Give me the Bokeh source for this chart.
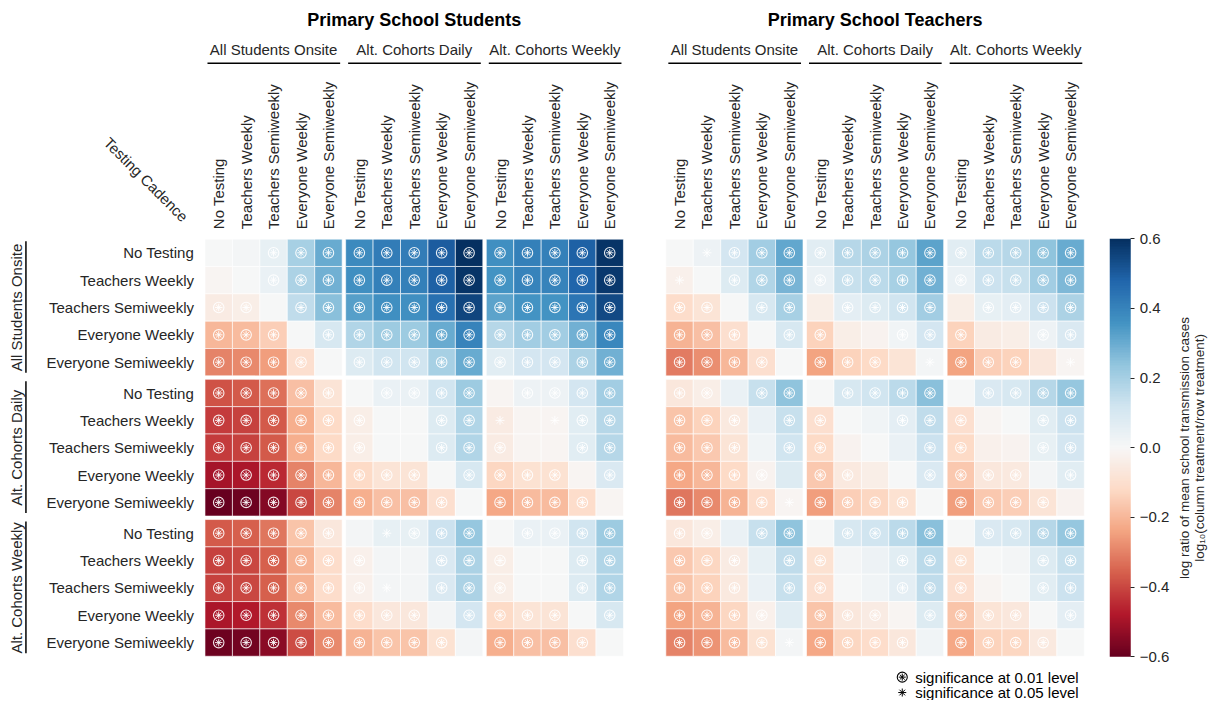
import math
import numpy as np
from bokeh.plotting import figure
from bokeh.models import (Range1d, ColumnDataSource, LinearColorMapper, ColorBar,
                          FixedTicker, CustomJSTickFormatter)
from bokeh.transform import transform
from bokeh.core.properties import value
from bokeh.embed import file_html
from bokeh.resources import INLINE

# ---------------- data ----------------
panels = ["Primary School Students", "Primary School Teachers"]
groups = ["All Students Onsite", "Alt. Cohorts Daily", "Alt. Cohorts Weekly"]
cadences = ["No Testing", "Teachers Weekly", "Teachers Semiweekly",
            "Everyone Weekly", "Everyone Semiweekly"]

# log10(column treatment / row treatment); rows/cols ordered group x cadence
students_ratio = [
    [0.00, 0.01, 0.05, 0.20, 0.30, 0.38, 0.42, 0.42, 0.50, 0.60, 0.37, 0.41, 0.41, 0.49, 0.59],
    [-0.01, 0.00, 0.04, 0.19, 0.29, 0.37, 0.41, 0.41, 0.49, 0.59, 0.36, 0.40, 0.40, 0.48, 0.58],
    [-0.05, -0.04, 0.00, 0.15, 0.25, 0.33, 0.37, 0.37, 0.45, 0.55, 0.32, 0.36, 0.36, 0.44, 0.54],
    [-0.20, -0.19, -0.15, 0.00, 0.10, 0.18, 0.22, 0.22, 0.30, 0.40, 0.17, 0.21, 0.21, 0.29, 0.39],
    [-0.30, -0.29, -0.25, -0.10, 0.00, 0.08, 0.12, 0.12, 0.20, 0.30, 0.07, 0.11, 0.11, 0.19, 0.29],
    [-0.38, -0.37, -0.33, -0.18, -0.08, 0.00, 0.04, 0.04, 0.12, 0.22, -0.01, 0.03, 0.03, 0.11, 0.21],
    [-0.42, -0.41, -0.37, -0.22, -0.12, -0.04, 0.00, 0.00, 0.08, 0.18, -0.05, -0.01, -0.01, 0.07, 0.17],
    [-0.42, -0.41, -0.37, -0.22, -0.12, -0.04, 0.00, 0.00, 0.08, 0.18, -0.05, -0.01, -0.01, 0.07, 0.17],
    [-0.50, -0.49, -0.45, -0.30, -0.20, -0.12, -0.08, -0.08, 0.00, 0.10, -0.13, -0.09, -0.09, -0.01, 0.09],
    [-0.60, -0.59, -0.55, -0.40, -0.30, -0.22, -0.18, -0.18, -0.10, 0.00, -0.23, -0.19, -0.19, -0.11, -0.01],
    [-0.37, -0.36, -0.32, -0.17, -0.07, 0.01, 0.05, 0.05, 0.13, 0.23, 0.00, 0.04, 0.04, 0.12, 0.22],
    [-0.41, -0.40, -0.36, -0.21, -0.11, -0.03, 0.01, 0.01, 0.09, 0.19, -0.04, 0.00, 0.00, 0.08, 0.18],
    [-0.41, -0.40, -0.36, -0.21, -0.11, -0.03, 0.01, 0.01, 0.09, 0.19, -0.04, 0.00, 0.00, 0.08, 0.18],
    [-0.49, -0.48, -0.44, -0.29, -0.19, -0.11, -0.07, -0.07, 0.01, 0.11, -0.12, -0.08, -0.08, 0.00, 0.10],
    [-0.59, -0.58, -0.54, -0.39, -0.29, -0.21, -0.17, -0.17, -0.09, 0.01, -0.22, -0.18, -0.18, -0.10, 0.00],
]
teachers_ratio = [
    [0.00, 0.03, 0.11, 0.21, 0.31, 0.07, 0.17, 0.19, 0.23, 0.32, 0.07, 0.16, 0.17, 0.24, 0.30],
    [-0.03, 0.00, 0.08, 0.18, 0.28, 0.04, 0.14, 0.16, 0.20, 0.29, 0.04, 0.13, 0.14, 0.21, 0.27],
    [-0.11, -0.08, 0.00, 0.10, 0.20, -0.04, 0.06, 0.08, 0.12, 0.21, -0.04, 0.05, 0.06, 0.13, 0.19],
    [-0.21, -0.18, -0.10, 0.00, 0.10, -0.14, -0.04, -0.02, 0.02, 0.11, -0.14, -0.05, -0.04, 0.03, 0.09],
    [-0.31, -0.28, -0.20, -0.10, 0.00, -0.24, -0.14, -0.12, -0.08, 0.01, -0.24, -0.15, -0.14, -0.07, -0.01],
    [-0.07, -0.04, 0.04, 0.14, 0.24, 0.00, 0.10, 0.12, 0.16, 0.25, 0.00, 0.09, 0.10, 0.17, 0.23],
    [-0.17, -0.14, -0.06, 0.04, 0.14, -0.10, 0.00, 0.02, 0.06, 0.15, -0.10, -0.01, 0.00, 0.07, 0.13],
    [-0.19, -0.16, -0.08, 0.02, 0.12, -0.12, -0.02, 0.00, 0.04, 0.13, -0.12, -0.03, -0.02, 0.05, 0.11],
    [-0.23, -0.20, -0.12, -0.02, 0.08, -0.16, -0.06, -0.04, 0.00, 0.09, -0.16, -0.07, -0.06, 0.01, 0.07],
    [-0.32, -0.29, -0.21, -0.11, -0.01, -0.25, -0.15, -0.13, -0.09, 0.00, -0.25, -0.16, -0.15, -0.08, -0.02],
    [-0.07, -0.04, 0.04, 0.14, 0.24, 0.00, 0.10, 0.12, 0.16, 0.25, 0.00, 0.09, 0.10, 0.17, 0.23],
    [-0.16, -0.13, -0.05, 0.05, 0.15, -0.09, 0.01, 0.03, 0.07, 0.16, -0.09, 0.00, 0.01, 0.08, 0.14],
    [-0.17, -0.14, -0.06, 0.04, 0.14, -0.10, 0.00, 0.02, 0.06, 0.15, -0.10, -0.01, 0.00, 0.07, 0.13],
    [-0.24, -0.21, -0.13, -0.03, 0.07, -0.17, -0.07, -0.05, -0.01, 0.08, -0.17, -0.08, -0.07, 0.00, 0.06],
    [-0.30, -0.27, -0.19, -0.09, 0.01, -0.23, -0.13, -0.11, -0.07, 0.02, -0.23, -0.14, -0.13, -0.06, 0.00],
]
# 'o' = significant at 0.01, '*' = significant at 0.05, '.' = not significant
students_sig = [
    "..ooooooooooooo",
    "..ooooooooooooo",
    "oo.oooooooooooo",
    "ooo.ooooooooooo",
    "oooo.oooooooooo",
    "ooooo.oooo.oooo",
    "oooooo..oo*.*oo",
    "oooooo..ooo..oo",
    "oooooooo.oooo.o",
    "ooooooooo.oooo.",
    "ooooo.*ooo.oooo",
    "oooooo..ooo..oo",
    "oooooo*.ooo..oo",
    "oooooooo.oooo.o",
    "ooooooooo.oooo.",
]
teachers_sig = [
    ".*ooooooooooooo",
    "*.ooooooooooooo",
    "oo.oo.oooo.oooo",
    "ooo.oo..ooo..oo",
    "oooo.ooo.*ooo.*",
    "oo.oo.oooo.oooo",
    "ooo.oo..ooo..oo",
    "ooo.oo...oo..oo",
    "oooo.oo..oooo.o",
    "oooo*oooo.oooo.",
    "oo.oo.oooo.oooo",
    "ooo.oo..ooo..oo",
    "ooo.oo..ooo..oo",
    "oooo.ooo.oooo.o",
    "oooo*oooo.oooo.",
]
panel_ratios = [students_ratio, teachers_ratio]
panel_sigs = [students_sig, teachers_sig]

colorbar_ticks = [-0.6, -0.4, -0.2, 0.0, 0.2, 0.4, 0.6]
colorbar_title = ["log ratio of mean school transmission cases",
                  "log\u2081\u2080(column treatment/row treatment)"]
legend_labels = ["significance at 0.01 level", "significance at 0.05 level"]
corner_label = "Testing Cadence"

# ---------------- styling / layout ----------------
REF_W, REF_H = 1211, 704
W, H = 1208, 700
FONT = "Liberation Sans"
TXT = "#262626"
FS = "15px"
panel_x0 = [205.0, 667.0]
grid_y0 = 240.0
cell = 27.5
stride = 141.0
block = 5 * cell


def Y(py):
    return REF_H - py


def cx(panel, j):
    return panel_x0[panel] + (j // 5) * stride + (j % 5) * cell + cell / 2


def cy(i):
    return Y(grid_y0 + (i // 5) * stride + (i % 5) * cell + cell / 2)


# RdBu diverging palette (red = negative, blue = positive)
anchors = ['#67001f', '#b2182b', '#d6604d', '#f4a582', '#fddbc7', '#f7f7f7',
           '#d1e5f0', '#92c5de', '#4393c3', '#2166ac', '#053061']
rgb = np.array([[int(c[i:i + 2], 16) for i in (1, 3, 5)] for c in anchors], float)
pos = np.linspace(0, 1, len(anchors))
t = np.linspace(0, 1, 256)
palette = ["#%02x%02x%02x" % tuple(int(round(np.interp(tt, pos, rgb[:, k]))) for k in range(3))
           for tt in t]
mapper = LinearColorMapper(palette=palette, low=-0.6, high=0.6)

p = figure(width=W, height=H, x_range=Range1d(0, REF_W), y_range=Range1d(0, REF_H),
           output_backend="svg", toolbar_location=None, min_border=0,
           x_axis_location=None, y_axis_location=None)
p.grid.visible = False
p.outline_line_color = None
p.background_fill_color = "white"
p.border_fill_color = "white"

# ---------------- heatmap cells ----------------
xs, ys, vals = [], [], []
mx1, my1, mx2, my2 = [], [], [], []
for k in range(2):
    M = panel_ratios[k]
    S = panel_sigs[k]
    for i in range(15):
        for j in range(15):
            xs.append(cx(k, j))
            ys.append(cy(i))
            vals.append(M[i][j])
            if S[i][j] == 'o':
                mx1.append(cx(k, j)); my1.append(cy(i))
            elif S[i][j] == '*':
                mx2.append(cx(k, j)); my2.append(cy(i))

src = ColumnDataSource(dict(x=xs, y=ys, v=vals))
p.rect(x='x', y='y', width=cell, height=cell, source=src,
       fill_color=transform('v', mapper), line_color="white", line_width=1, line_alpha=0.6)

p.scatter(mx1, my1, marker="circle", size=10.5, fill_alpha=0, line_color="white",
          line_width=1.1, line_alpha=0.9)
p.scatter(mx1, my1, marker="asterisk", size=7.5, line_color="white", line_width=1.0, line_alpha=0.9)
p.scatter(mx2, my2, marker="asterisk", size=9, line_color="white", line_width=1.0, line_alpha=0.9)

# ---------------- titles & group headers ----------------
tx, ty, tt_ = [], [], []
for k in range(2):
    tx.append(panel_x0[k] + (2 * stride + block) / 2)
    ty.append(Y(20))
    tt_.append(panels[k])
p.text(tx, ty, text=tt_, text_font=value(FONT), text_font_size="18px",
       text_font_style="bold", text_color="black", text_align="center", text_baseline="middle")

gx, gy, gt = [], [], []
sx0, sx1, sy = [], [], []
for k in range(2):
    for g in range(3):
        left = panel_x0[k] + g * stride
        gx.append(left + block / 2); gy.append(Y(49)); gt.append(groups[g])
        sx0.append(left + 2.5); sx1.append(left + block - 2); sy.append(Y(63))
p.text(gx, gy, text=gt, text_font=value(FONT), text_font_size=FS, text_color=TXT,
       text_align="center", text_baseline="middle")
p.segment(x0=sx0, y0=sy, x1=sx1, y1=sy, line_color="black", line_width=1.5)

# column labels (rotated)
cxs, cys, cts = [], [], []
for k in range(2):
    for j in range(15):
        cxs.append(cx(k, j)); cys.append(Y(230)); cts.append(cadences[j % 5])
p.text(cxs, cys, text=cts, angle=math.pi / 2, text_font=value(FONT), text_font_size=FS,
       text_color=TXT, text_align="left", text_baseline="middle")

# row labels
rys = [cy(i) for i in range(15)]
p.text([194] * 15, rys, text=[cadences[i % 5] for i in range(15)], text_font=value(FONT),
       text_font_size=FS, text_color=TXT, text_align="right", text_baseline="middle")

# row group labels + vertical lines
bys, bts, v0, v1 = [], [], [], []
for g in range(3):
    top = grid_y0 + g * stride
    bys.append(Y(top + block / 2)); bts.append(groups[g])
    v0.append(Y(top + 2)); v1.append(Y(top + block - 3))
p.text([16.5] * 3, bys, text=bts, angle=math.pi / 2, text_font=value(FONT),
       text_font_size=FS, text_color=TXT, text_align="center", text_baseline="middle")
p.segment(x0=[25.5] * 3, y0=v0, x1=[25.5] * 3, y1=v1, line_color="black", line_width=1.5)

# corner label
p.text([146], [Y(180)], text=[corner_label], angle=-math.pi / 4, text_font=value(FONT),
       text_font_size=FS, text_color=TXT, text_align="center", text_baseline="middle")

# ---------------- colour bar ----------------
sxk = W / REF_W
syk = H / REF_H
cb = ColorBar(color_mapper=mapper, orientation="vertical",
              location=(1112 * sxk, (REF_H - 660) * syk),
              width=int(round(21 * sxk)), height=int(round(420 * syk)),
              padding=0, margin=0,
              ticker=FixedTicker(ticks=colorbar_ticks),
              formatter=CustomJSTickFormatter(code="return tick.toFixed(1).replace('-', '\u2212');"),
              major_label_text_font=FONT, major_label_text_font_size=FS,
              major_label_text_color=TXT, major_tick_line_color=TXT,
              major_tick_out=4, major_tick_in=0, major_tick_line_width=1,
              minor_tick_line_color=None, bar_line_color=None, border_line_color=None,
              background_fill_alpha=0, label_standoff=5)
p.add_layout(cb)

p.text([1187, 1202], [Y(450), Y(450)], text=colorbar_title, angle=math.pi / 2,
       text_font=value(FONT), text_font_size="13.5px", text_color=TXT,
       text_align="center", text_baseline="middle")

# ---------------- significance legend ----------------
p.scatter([904], [Y(680.5)], marker="circle", size=10, fill_alpha=0, line_color="black", line_width=1.1)
p.scatter([904], [Y(680.5)], marker="asterisk", size=7, line_color="black", line_width=1.0)
p.scatter([904], [Y(696)], marker="asterisk", size=8, line_color="black", line_width=1.0)
p.text([917, 917], [Y(680.5), Y(696)], text=legend_labels, text_font=value(FONT),
       text_font_size=FS, text_color="black", text_align="left", text_baseline="middle")

open("out.html", "w").write(file_html(p, INLINE))
